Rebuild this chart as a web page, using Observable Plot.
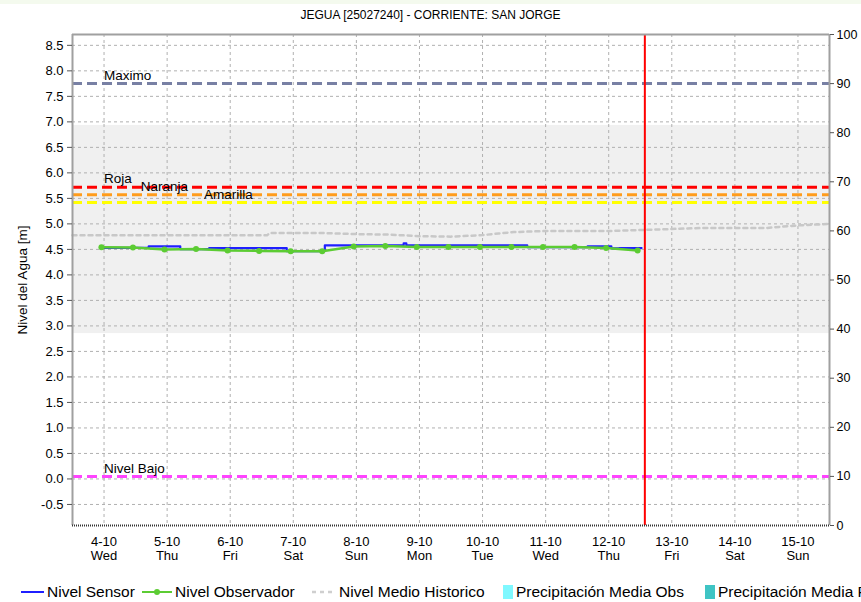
<!DOCTYPE html>
<html><head><meta charset="utf-8">
<script src="https://cdn.jsdelivr.net/npm/d3@7"></script>
<script src="https://cdn.jsdelivr.net/npm/@observablehq/plot@0.6"></script>
<style>
body{margin:0;background:#fff;font-family:"Liberation Sans",Arial,sans-serif;}
#wrap{position:relative;width:861px;height:602px;overflow:hidden;background:#fff;}
#strip{position:absolute;top:0;left:0;width:861px;height:4px;background:#f4faee;}
#title{position:absolute;top:8px;left:0;width:861px;text-align:center;font-size:12px;color:#000;line-height:15px;}
#chart{position:absolute;top:0;left:0;}
#legend{position:absolute;top:583px;left:0;width:861px;height:19px;white-space:nowrap;font-size:15.5px;line-height:18px;color:#000;}
#legend .item{position:absolute;top:0;white-space:nowrap;}
#legend svg{vertical-align:middle;margin-right:3px;position:relative;top:-1px;}
</style></head><body>
<div id="wrap"><div id="strip"></div><div id="chart"></div><div id="title"></div><div id="legend"></div></div>
<script>
const title = "JEGUA [25027240] - CORRIENTE: SAN JORGE";
const yLabel = "Nivel del Agua [m]";
const yDomain = [-0.9125, 8.7125];
const xDomain = ["2023-10-03T12:00Z", "2023-10-15T12:00Z"];
const dayTicks = ["2023-10-04","2023-10-05","2023-10-06","2023-10-07","2023-10-08","2023-10-09","2023-10-10","2023-10-11","2023-10-12","2023-10-13","2023-10-14","2023-10-15"];
const dayNames = ["Sun","Mon","Tue","Wed","Thu","Fri","Sat"];
const leftTicks = [-0.5,0,0.5,1,1.5,2,2.5,3,3.5,4,4.5,5,5.5,6,6.5,7,7.5,8,8.5];
const rightTicks = [0,10,20,30,40,50,60,70,80,90,100];

const obsTimes = ["2023-10-03T23:00Z","2023-10-04T11:00Z","2023-10-04T23:00Z","2023-10-05T11:00Z","2023-10-05T23:00Z","2023-10-06T11:00Z","2023-10-06T23:00Z","2023-10-07T11:00Z","2023-10-07T23:00Z","2023-10-08T11:00Z","2023-10-08T23:00Z","2023-10-09T11:00Z","2023-10-09T23:00Z","2023-10-10T11:00Z","2023-10-10T23:00Z","2023-10-11T11:00Z","2023-10-11T23:00Z","2023-10-12T11:00Z"];
const obsValues = [4.54,4.535,4.50,4.51,4.48,4.47,4.465,4.465,4.555,4.565,4.545,4.545,4.545,4.545,4.545,4.545,4.525,4.48];

const sensorTimes = ["2023-10-04T00:00Z","2023-10-04T17:00Z","2023-10-05T05:00Z","2023-10-05T16:00Z","2023-10-06T21:30Z","2023-10-07T12:00Z","2023-10-08T18:00Z","2023-10-08T19:00Z","2023-10-10T17:00Z","2023-10-11T16:00Z","2023-10-12T01:00Z","2023-10-12T04:00Z","2023-10-12T12:30Z"];
const sensorValues = [4.53,4.56,4.505,4.525,4.465,4.58,4.62,4.58,4.545,4.56,4.52,4.525,4.525];

const histTimes = ["2023-10-03T12:00Z","2023-10-06T14:00Z","2023-10-06T15:00Z","2023-10-07T12:00Z","2023-10-08T00:00Z","2023-10-08T12:00Z","2023-10-09T00:00Z","2023-10-09T12:00Z","2023-10-10T00:00Z","2023-10-10T06:00Z","2023-10-10T12:00Z","2023-10-11T00:00Z","2023-10-12T00:00Z","2023-10-12T12:00Z","2023-10-13T00:00Z","2023-10-13T12:00Z","2023-10-14T12:00Z","2023-10-15T00:00Z","2023-10-15T12:00Z"];
const histValues = [4.775,4.775,4.82,4.82,4.80,4.79,4.76,4.75,4.78,4.81,4.84,4.86,4.86,4.88,4.90,4.92,4.92,4.97,5.00];

const thresholdNames = ["Maximo","Roja","Naranja","Amarilla","Nivel Bajo"];
const thresholdValues = [7.75,5.72,5.57,5.42,0.05];
const thresholdColors = ["#7880a4","#ff0000","#ff9c1c","#ffff00","#ff44ff"];
const thresholdLabelTimes = ["2023-10-04T00:00Z","2023-10-04T00:00Z","2023-10-04T14:00Z","2023-10-05T14:00Z","2023-10-04T00:00Z"];
const bandRange = [2.85, 6.93];
const nowTime = "2023-10-12T13:45Z";

const legendItems = [
  {label:"Nivel Sensor", kind:"line", color:"#1f1fff", left:21},
  {label:"Nivel Observador", kind:"dotline", color:"#5ccc33", left:142},
  {label:"Nivel Medio Historico", kind:"dots", color:"#cfcfcf", left:312},
  {label:"Precipitación Media Obs", kind:"box", color:"#7ff8ff", left:503},
  {label:"Precipitación Media Pronosticada", kind:"box", color:"#3fc4c4", left:705}
];

const D = s => new Date(s);
const xd = xDomain.map(D);
const toM = r => yDomain[0] + r / 100 * (yDomain[1] - yDomain[0]);
const fromM = m => Math.round((m - yDomain[0]) / (yDomain[1] - yDomain[0]) * 100);

const obs = obsTimes.map((t, i) => ({t: D(t), v: obsValues[i]}));
const sensor = sensorTimes.map((t, i) => ({t: D(t), v: sensorValues[i]}));
const hist = histTimes.map((t, i) => ({t: D(t), v: histValues[i]}));
const thresholds = thresholdNames.map((n, i) => ({name: n, v: thresholdValues[i], color: thresholdColors[i], t: D(thresholdLabelTimes[i])}));
const ticksX = dayTicks.map(d => D(d + "T00:00Z"));

document.getElementById("title").textContent = title;

const chart = Plot.plot({
  width: 861, height: 572,
  marginLeft: 72, marginRight: 32, marginTop: 34, marginBottom: 47,
  style: {fontFamily: "Liberation Sans, Arial, sans-serif", fontSize: "13px", color: "#000", background: "transparent"},
  x: {type: "utc", domain: xd, axis: null},
  y: {domain: yDomain, axis: null},
  marks: [
    Plot.rect([bandRange], {x1: () => xd[0], x2: () => xd[1], y1: d => d[0], y2: d => d[1], fill: "#f0f0f0"}),
    Plot.gridY(leftTicks, {stroke: "#b0b0b0", strokeOpacity: 1, strokeDasharray: "3,3"}),
    Plot.gridX(ticksX, {stroke: "#b0b0b0", strokeOpacity: 1, strokeDasharray: "3,3"}),
    Plot.ruleY(thresholds, {y: "v", stroke: "color", strokeWidth: 3, strokeDasharray: "10,5"}),
    Plot.text(thresholds, {x: "t", y: "v", text: "name", textAnchor: "start", dy: -8, fontSize: 13.5, fill: "#000"}),
    Plot.line(hist, {x: "t", y: "v", stroke: "#c8c8c8", strokeWidth: 2.5, strokeDasharray: "4,4"}),
    Plot.line(sensor, {x: "t", y: "v", curve: "step-after", stroke: "#1f1fff", strokeWidth: 2.2}),
    Plot.line(obs, {x: "t", y: "v", stroke: "#5ccc33", strokeWidth: 2.5}),
    Plot.dot(obs, {x: "t", y: "v", r: 3, fill: "#5ccc33", stroke: "none"}),
    Plot.ruleX([D(nowTime)], {stroke: "#ff0000", strokeWidth: 2}),
    Plot.ruleY([yDomain[1]], {stroke: "#a0a0a0", strokeWidth: 2}),
    Plot.ruleX([xd[0], xd[1]], {stroke: "#a0a0a0", strokeWidth: 2}),
    Plot.ruleY([yDomain[0]], {stroke: "#333", strokeWidth: 2, strokeDasharray: "1,1"}),
    Plot.axisY(leftTicks, {anchor: "left", tickSize: 5, tickPadding: 4, stroke: "#555", tickFormat: d => d.toFixed(1), fontSize: 13, label: null}),
    Plot.axisY(rightTicks.map(toM), {anchor: "right", tickSize: 4, tickPadding: 3, stroke: "#555", tickFormat: d => String(fromM(d)), fontSize: 12.5, label: null}),
    Plot.axisX(ticksX, {anchor: "bottom", tickSize: 0, tickPadding: 10, fontSize: 13, lineHeight: 1.12, label: null,
      tickFormat: d => `${d.getUTCDate()}-${d.getUTCMonth() + 1}\n${dayNames[d.getUTCDay()]}`}),
    Plot.text([yLabel], {text: d => d, frameAnchor: "left", textAnchor: "middle", dx: -50, rotate: -90, fontSize: 13.5, fill: "#000"})
  ]
});
document.getElementById("chart").appendChild(chart);

const legend = document.getElementById("legend");
for (const it of legendItems) {
  const span = document.createElement("span");
  span.className = "item";
  span.style.left = it.left + "px";
  let sw = "";
  if (it.kind === "line") sw = `<svg width="23" height="12"><line x1="0" x2="23" y1="6" y2="6" stroke="${it.color}" stroke-width="2"/></svg>`;
  else if (it.kind === "dotline") sw = `<svg width="30" height="12"><line x1="0" x2="30" y1="6" y2="6" stroke="${it.color}" stroke-width="2"/><circle cx="15" cy="6" r="3" fill="${it.color}"/></svg>`;
  else if (it.kind === "dots") sw = `<svg width="24" height="12"><line x1="0" x2="24" y1="6" y2="6" stroke="${it.color}" stroke-width="2.5" stroke-dasharray="4,4"/></svg>`;
  else sw = `<svg width="10" height="14"><rect x="0" y="0" width="10" height="14" fill="${it.color}"/></svg>`;
  span.innerHTML = sw + `<span>${it.label}</span>`;
  legend.appendChild(span);
}
</script>
</body></html>
